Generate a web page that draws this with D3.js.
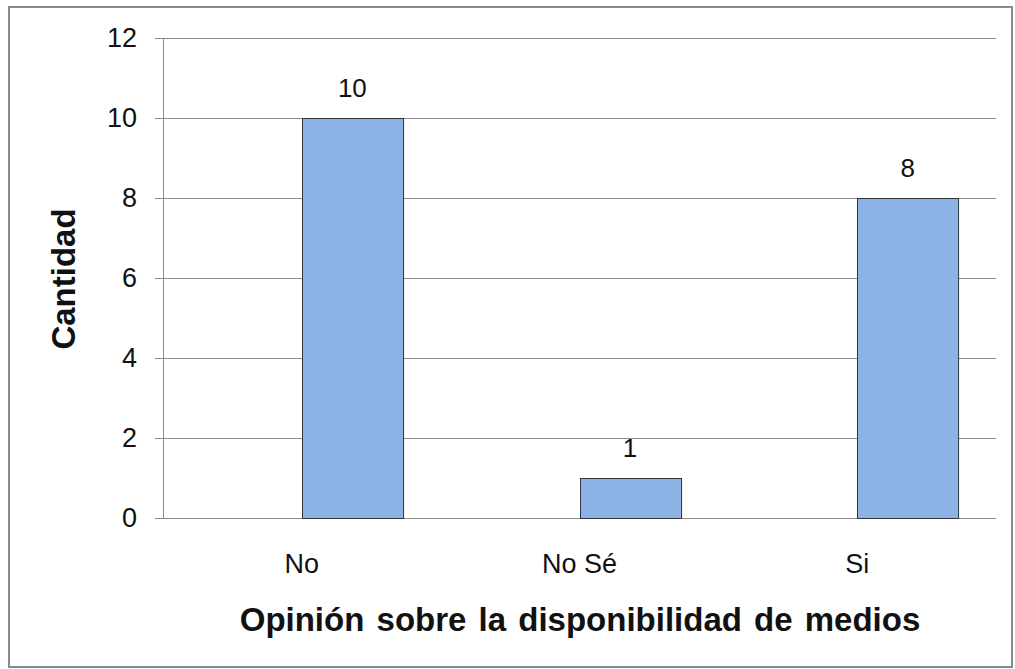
<!DOCTYPE html>
<html>
<head>
<meta charset="utf-8">
<script src="https://cdn.jsdelivr.net/npm/d3@7"></script>
<style>
  html, body { margin: 0; padding: 0; background: #fff; }
  svg { display: block; font-family: "Liberation Sans", Arial, sans-serif; }
</style>
</head>
<body>
<svg id="chart" width="1015" height="669"></svg>
<script>
const categories = ["No", "No Sé", "Si"];
const values = [10, 1, 8];
const yTicks = [0, 2, 4, 6, 8, 10, 12];
const yTitle = "Cantidad";
const xTitle = "Opinión sobre la disponibilidad de medios";

const svg = d3.select("#chart");
const W = 1015, H = 669;
const m = { left: 163, right: 19, top: 38, bottom: 151 };
const pw = W - m.left - m.right, ph = H - m.top - m.bottom;

// outer frame
svg.append("rect").attr("x", 9).attr("y", 7).attr("width", 1003).attr("height", 660)
  .attr("fill", "#fff").attr("stroke", "#8a8a8a").attr("stroke-width", 2);

const g = svg.append("g").attr("transform", `translate(${m.left},${m.top})`);

// category slots; the bars sit just right of each slot centre (as in the reference)
const x = d3.scaleBand().domain(categories).range([0, pw]).padding(0);
const barW = x.bandwidth() * 0.364;
const cx = d => x(d) + x.bandwidth() / 2;
const y = d3.scaleLinear().domain([0, 12]).range([ph, 0]);

// gridlines
g.append("g").selectAll("line").data(yTicks.filter(t => t > 0)).join("line")
  .attr("x1", 0).attr("x2", pw)
  .attr("y1", d => Math.round(y(d)) + 0.5).attr("y2", d => Math.round(y(d)) + 0.5)
  .attr("stroke", "#8c8c8c").attr("stroke-width", 1);

// y axis
const ya = g.append("g").call(d3.axisLeft(y).tickValues(yTicks).tickSize(8).tickPadding(18));
ya.select(".domain").attr("stroke", "#8c8c8c").attr("d", `M0.5,${ph}V0`);
ya.selectAll(".tick line").attr("stroke", "#8c8c8c");
ya.selectAll(".tick text").attr("font-size", 27).attr("fill", "#111")
  .attr("font-family", "'Liberation Sans', Arial, sans-serif");

// x baseline
g.append("line").attr("x1", -8).attr("x2", pw).attr("y1", ph + 0.5).attr("y2", ph + 0.5)
  .attr("stroke", "#8c8c8c");

// bars
g.append("g").selectAll("rect").data(categories).join("rect")
  .attr("x", d => Math.round(cx(d)) + 0.5)
  .attr("y", (d, i) => Math.round(y(values[i])) + 0.5)
  .attr("width", barW)
  .attr("height", (d, i) => ph - Math.round(y(values[i])))
  .attr("fill", "#8db2e5").attr("stroke", "#2e3440").attr("stroke-width", 1);

// data labels
g.append("g").selectAll("text").data(categories).join("text")
  .attr("x", d => cx(d) + barW / 2)
  .attr("y", (d, i) => y(values[i]) - 21)
  .attr("text-anchor", "middle").attr("font-size", 26).attr("fill", "#111")
  .text((d, i) => values[i]);

// x category labels at slot centres
g.append("g").selectAll("text").data(categories).join("text")
  .attr("x", d => cx(d))
  .attr("y", ph + 55)
  .attr("text-anchor", "middle").attr("font-size", 27).attr("fill", "#111")
  .text(d => d);

// axis titles
svg.append("text").attr("transform", "translate(75,279) rotate(-90)")
  .attr("text-anchor", "middle").attr("font-size", 33).attr("font-weight", "bold")
  .attr("fill", "#111").text(yTitle);

svg.append("text").attr("x", 580).attr("y", 631)
  .attr("text-anchor", "middle").attr("font-size", 33).attr("font-weight", "bold")
  .attr("fill", "#111").attr("word-spacing", 3).text(xTitle);
</script>
</body>
</html>
